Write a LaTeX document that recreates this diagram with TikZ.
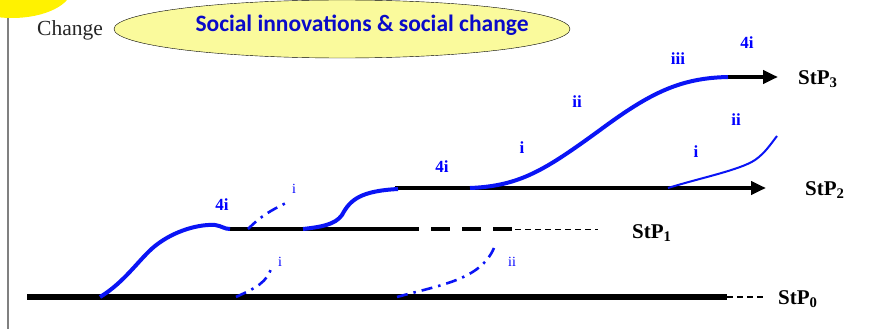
\documentclass[tikz,border=0pt]{standalone}
\usepackage{fontspec}
\setmainfont{Liberation Serif}
\newfontfamily\calibri{Carlito}
\usetikzlibrary{arrows.meta,shapes.geometric}
\definecolor{ovalfill}{HTML}{FAFA9C}
\definecolor{titleblue}{HTML}{0A0AC8}
\definecolor{curveblue}{HTML}{0A14F5}

\begin{document}
\begin{tikzpicture}[x=1pt,y=-1pt,
	base/.style={line width=4pt},
	inno/.style={draw=curveblue,line width=4pt},
	trial/.style={draw=curveblue,line width=2.6pt,dash pattern=on 11pt off 6pt on 2.5pt off 6pt},
	tip/.style={-{Triangle[length=15pt,width=13pt]}},
	lab/.style={text=blue,font=\bfseries\fontsize{17}{17}\selectfont,inner sep=0pt},
	minor/.style={text=blue,font=\fontsize{14}{14}\selectfont,inner sep=0pt},
	stp/.style={font=\bfseries\fontsize{21}{21}\selectfont,inner sep=0pt,anchor=west}]
	\useasboundingbox (0,0) rectangle (885,329);
	\begin{scope}
		\clip (0,0) rectangle (885,329);
		\fill[yellow] (12,-12) ellipse [x radius=60,y radius=30];
	\end{scope}
	% axis and title
	\coordinate (top) at (8,18);
	\coordinate (bot) at (8,329);
	\draw[gray,line width=1.5pt] (top) -- (bot);
	\node [anchor=base west,inner sep=0pt,text=black!85,font=\fontsize{21.5}{22}\selectfont] (change) at (37,36) {Change};
	\node [ellipse,draw,fill=ovalfill,minimum width=456,minimum height=58,inner sep=0pt] (oval) at (342,29) {};
	\node [text=titleblue,font=\calibri\bfseries\fontsize{23.5}{28}\selectfont,inner sep=0pt] (theme) at (362,25) {Social innovations \& social change};
	% paths
	\coordinate (a0) at (27,297);
	\coordinate (b0) at (727,297);
	\coordinate (c0) at (765,297);
	\coordinate (a1) at (228,229);
	\coordinate (b1) at (400,229);
	\coordinate (c1) at (515,229);
	\coordinate (d1) at (598,229);
	\coordinate (a2) at (395,188);
	\coordinate (b2) at (766,188);
	\coordinate (a3) at (728,77);
	\coordinate (b3) at (778,77);
	\draw[line width=6pt] (a0) -- (b0);
	\draw[line width=1.5pt,dash pattern=on 6pt off 4pt] (b0) -- (c0);
	\draw[base] (a1) -- (b1);
	\draw[base,dash pattern=on 19pt off 12pt] (b1) -- (c1);
	\draw[line width=1pt,dash pattern=on 6pt off 4pt] (c1) -- (d1);
	\draw[base,tip] (a2) -- (b2);
	\draw[base,tip] (a3) -- (b3);
	% innovation curves
	\coordinate (s1) at (100,297);
	\coordinate (e1) at (230,229);
	\coordinate (s2) at (303,229);
	\coordinate (e2) at (398,189);
	\coordinate (s3) at (470,188);
	\coordinate (s4) at (668,188);
	\coordinate (e4) at (777,136);
	\draw[inno] (s1) .. controls (125,282) and (140,258) .. (155,246)
		.. controls (175,230) and (200,224) .. (215,225)
		.. controls (222,226) and (224,229) .. (e1);
	\draw[inno] (s2) .. controls (320,227) and (335,225) .. (342,215)
		.. controls (350,200) and (360,191) .. (e2);
	\draw[inno] (s3) .. controls (520,186) and (545,170) .. (600,130)
		.. controls (650,93) and (680,78) .. (a3);
	\draw[draw=curveblue,line width=2pt] (s4) .. controls (700,178) and (740,170) .. (755,160)
		.. controls (765,153) and (770,145) .. (e4);
	\coordinate (s5) at (236,297);
	\coordinate (e5) at (272,265);
	\coordinate (s6) at (397,297);
	\coordinate (e6) at (494,248);
	\coordinate (s7) at (248,229);
	\coordinate (e7) at (286,203);
	\draw[trial] (s5) .. controls (255,288) and (268,283) .. (e5);
	\draw[trial] (s6) .. controls (440,285) and (480,280) .. (e6);
	\draw[trial] (s7) .. controls (262,215) and (272,210) .. (e7);
	% labels
	\node [stp] (p3) at (798,79) {StP\textsubscript{3}};
	\node [stp] (p2) at (805,190) {StP\textsubscript{2}};
	\node [stp] (p1) at (632,233) {StP\textsubscript{1}};
	\node [stp] (p0) at (778,299) {StP\textsubscript{0}};
	\node [lab] (f1) at (222,205) {4i};
	\node [lab] (f2) at (442,167) {4i};
	\node [lab] (f3) at (747,43) {4i};
	\node [lab] (i3) at (522,148) {i};
	\node [lab] (ii3) at (577,102) {ii};
	\node [lab] (iii3) at (678,59) {iii};
	\node [lab] (i4) at (696,152) {i};
	\node [lab] (ii4) at (736,120) {ii};
	\node [minor] (i7) at (294,189) {i};
	\node [minor] (i5) at (280,262) {i};
	\node [minor] (ii6) at (512,262) {ii};
\end{tikzpicture}
\end{document}
